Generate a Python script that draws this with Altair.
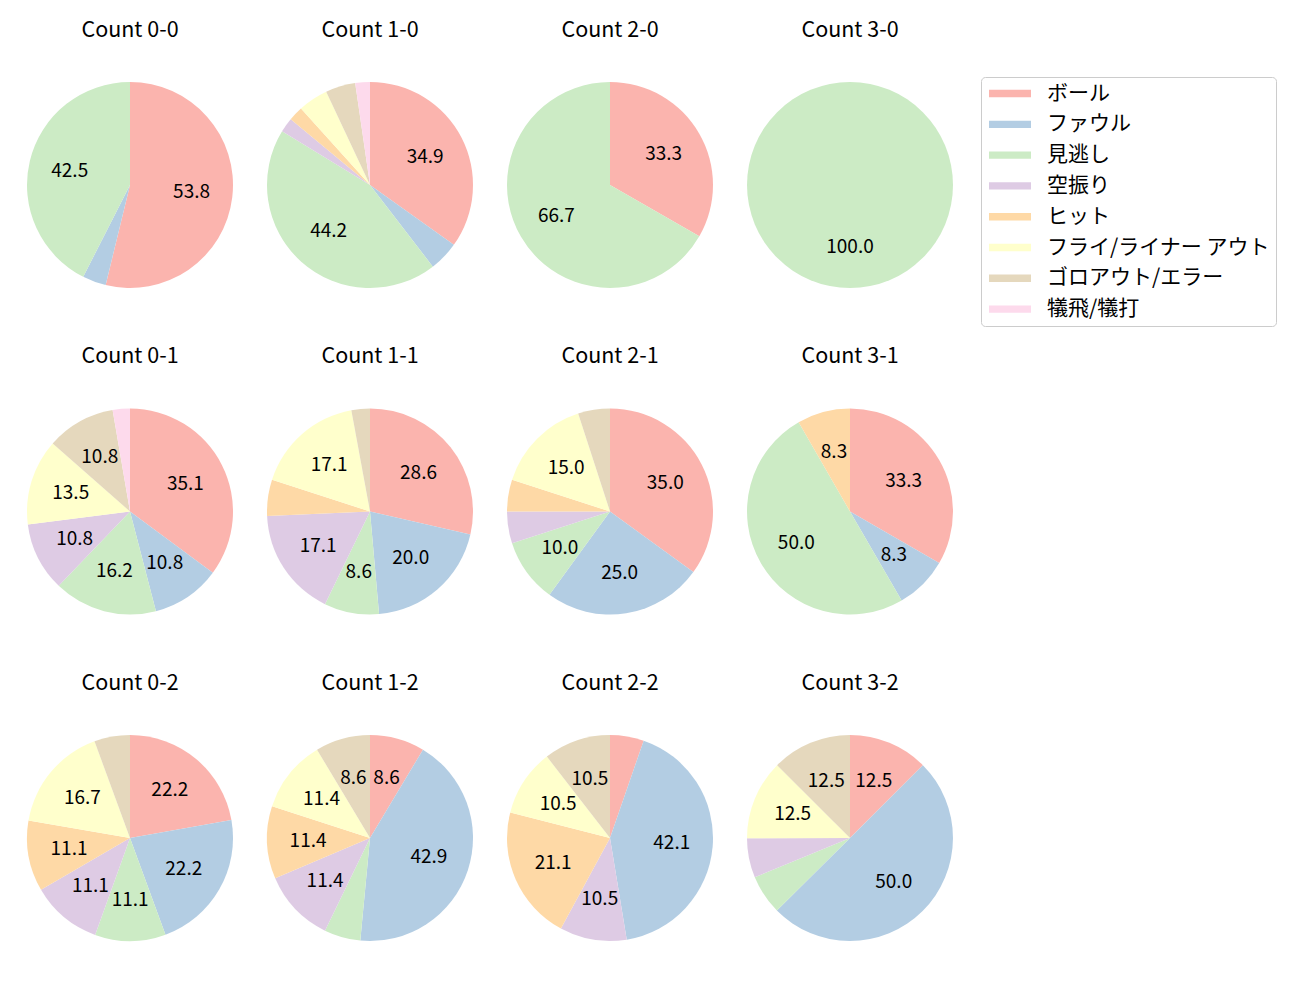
import altair as alt
import pandas as pd

categories = ["ボール", "ファウル", "見逃し", "空振り", "ヒット",
              "フライ/ライナー アウト", "ゴロアウト/エラー", "犠飛/犠打"]
colors = ["#fbb4ae", "#b3cde3", "#ccebc5", "#decbe4", "#fed9a6",
          "#ffffcc", "#e5d8bd", "#fddaec"]

count_labels = ["0-0", "1-0", "2-0", "3-0",
                "0-1", "1-1", "2-1", "3-1",
                "0-2", "1-2", "2-2", "3-2"]

# percentages per category (same order as categories)
pct_0_0 = [53.8, 3.7, 42.5, 0, 0, 0, 0, 0]
pct_1_0 = [34.9, 4.7, 44.2, 2.3, 2.3, 4.7, 4.7, 2.3]
pct_2_0 = [33.3, 0, 66.7, 0, 0, 0, 0, 0]
pct_3_0 = [0, 0, 100.0, 0, 0, 0, 0, 0]
pct_0_1 = [35.1, 10.8, 16.2, 10.8, 0, 13.5, 10.8, 2.7]
pct_1_1 = [28.6, 20.0, 8.6, 17.1, 5.7, 17.1, 2.9, 0]
pct_2_1 = [35.0, 25.0, 10.0, 5.0, 5.0, 15.0, 5.0, 0]
pct_3_1 = [33.3, 8.3, 50.0, 0, 8.3, 0, 0, 0]
pct_0_2 = [22.2, 22.2, 11.1, 11.1, 11.1, 16.7, 5.6, 0]
pct_1_2 = [8.6, 42.9, 5.7, 11.4, 11.4, 11.4, 8.6, 0]
pct_2_2 = [5.3, 42.1, 0, 10.5, 21.1, 10.5, 10.5, 0]
pct_3_2 = [12.5, 50.0, 6.2, 6.2, 0, 12.5, 12.5, 0]

all_pcts = [pct_0_0, pct_1_0, pct_2_0, pct_3_0,
            pct_0_1, pct_1_1, pct_2_1, pct_3_1,
            pct_0_2, pct_1_2, pct_2_2, pct_3_2]

rows = []
for cl, pcts in zip(count_labels, all_pcts):
    for i, (cat, v) in enumerate(zip(categories, pcts)):
        if v > 0:
            rows.append({
                "count": "Count " + cl,
                "cat": cat,
                "idx": i,
                "value": v,
                "label": f"{v:.1f}" if v >= 8 else "",
            })
df = pd.DataFrame(rows)

FONT = "Noto Sans CJK JP"

base = alt.Chart().encode(
    theta=alt.Theta("value:Q", stack=True),
    order=alt.Order("idx:Q", sort="ascending"),
)

arcs = base.mark_arc(radius=103).encode(
    color=alt.Color(
        "cat:N",
        scale=alt.Scale(domain=categories, range=colors),
        legend=alt.Legend(
            title=None,
            orient="none",
            legendX=961,
            legendY=12,
            symbolType="M-2,-0.35H2V0.35H-2Z",
            symbolSize=441,
            symbolOffset=12.5,
            symbolStrokeWidth=0,
            symbolOpacity=1,
            labelFont=FONT,
            labelFontSize=21,
            labelColor="#000000",
            labelLimit=400,
            labelOffset=26.5,
            rowPadding=8.8,
            padding=6,
            strokeColor="#cccccc",
            cornerRadius=4,
            fillColor="#ffffff",
        ),
    ),
)

texts = base.mark_text(radius=62, font=FONT, fontSize=19, color="#000000").encode(
    text="label:N",
)

count_titles = ["Count " + c for c in count_labels]

chart = alt.layer(arcs, texts, data=df).properties(
    width=220, height=240
).facet(
    facet=alt.Facet(
        "count:N",
        sort=count_titles,
        header=alt.Header(
            title=None,
            labelFont=FONT,
            labelFontSize=21.5,
            labelColor="#000000",
            labelPadding=24,
        ),
    ),
    columns=4,
    spacing={"row": 40.5, "column": 20},
).properties(
    padding={"left": 12, "top": 11, "right": 0, "bottom": 5}
).configure_view(
    stroke=None
)

chart.save("out.html", embed_options={"renderer": "svg", "actions": False})
